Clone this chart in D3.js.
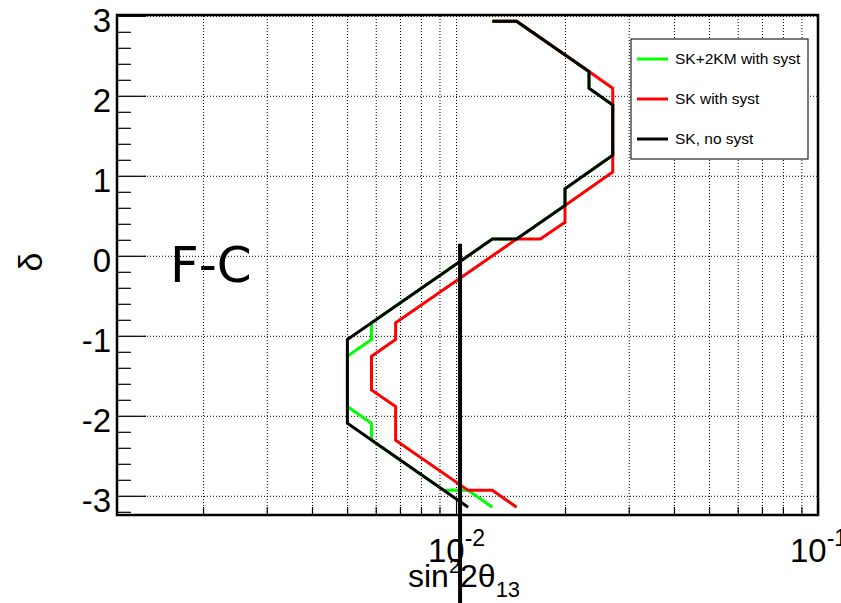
<!DOCTYPE html>
<meta charset="utf-8">
<style>
body { margin: 0; background: #fff; }
text { font-family: "Liberation Sans", Arial, sans-serif; fill: #000; }
.grid line { stroke: #000; stroke-width: 1; stroke-dasharray: 1,2; }
.grid path { display: none; }
.axis path { display: none; }
.axis line { stroke: #000; stroke-width: 1.2; }
</style>
<body>
<script src="https://cdn.jsdelivr.net/npm/d3@7"></script>
<script>
// sin^2 2theta13 (x) and delta (y) along each contour
var sinSKsyst2KM = [0.0126, 0.0147, 0.0233, 0.0233, 0.0271, 0.0271, 0.0200, 0.0200, 0.0147, 0.0126,
                    0.00584, 0.00584, 0.00501, 0.00501, 0.00584, 0.00584, 0.00926, 0.0108, 0.0126];
var deltaSKsyst2KM = [2.932, 2.932, 2.304, 2.094, 1.885, 1.257, 0.838, 0.628, 0.209, 0.209,
                      -0.838, -1.047, -1.257, -1.885, -2.094, -2.304, -2.932, -2.932, -3.142];

var sinSKsyst = [0.0126, 0.0147, 0.0233, 0.0271, 0.0271, 0.0200, 0.0200, 0.0171, 0.0147,
                 0.00681, 0.00681, 0.00584, 0.00584, 0.00681, 0.00681, 0.0108, 0.0126, 0.0147];
var deltaSKsyst = [2.932, 2.932, 2.304, 2.094, 1.047, 0.628, 0.419, 0.209, 0.209,
                   -0.838, -1.047, -1.257, -1.676, -1.885, -2.304, -2.932, -2.932, -3.142];

var sinSKnosyst = [0.0126, 0.0147, 0.0233, 0.0233, 0.0271, 0.0271, 0.0200, 0.0200, 0.0147, 0.0126,
                   0.00501, 0.00501, 0.0108];
var deltaSKnosyst = [2.932, 2.932, 2.304, 2.094, 1.885, 1.257, 0.838, 0.628, 0.209, 0.209,
                     -1.047, -2.094, -3.142];

// vertical marker line
var markerSin = [0.01026, 0.01026];
var markerDelta = [0.15, -4.4];

var seriesNames = ["SK+2KM with syst", "SK with syst", "SK, no syst"];
var seriesColors = ["#00ff00", "#ff0000", "#000000"];

var xMajor = [0.01, 0.1];
var xMinor = [0.002, 0.003, 0.004, 0.005, 0.006, 0.007, 0.008, 0.009,
              0.02, 0.03, 0.04, 0.05, 0.06, 0.07, 0.08, 0.09];
var yMajor = [-3, -2, -1, 0, 1, 2, 3];
var yMinor = [-3.2, -2.8, -2.6, -2.4, -2.2, -1.8, -1.6, -1.4, -1.2, -0.8, -0.6, -0.4, -0.2,
              0.2, 0.4, 0.6, 0.8, 1.2, 1.4, 1.6, 1.8, 2.2, 2.4, 2.6, 2.8];

var padL = 117, padR = 818, padT = 15, padB = 515;

var svg = d3.select("body").append("svg").attr("width", 841).attr("height", 603);

var x = d3.scaleLog().domain([0.001157, 0.1]).range([padL, padR]);
var y = d3.scaleLinear().domain([-3.24, 3.01]).range([padB, padT]);

// grid
svg.append("g").attr("class", "grid")
	.attr("transform", "translate(0," + padB + ")")
	.call(d3.axisBottom(x).tickValues(xMinor.concat([0.01])).tickSize(-(padB - padT)).tickFormat(""));
svg.append("g").attr("class", "grid")
	.attr("transform", "translate(" + padL + ",0)")
	.call(d3.axisLeft(y).tickValues(yMajor).tickSize(-(padR - padL)).tickFormat(""));

// contours
var line = d3.line().x(function(d){ return x(d[0]); }).y(function(d){ return y(d[1]); });
var curves = [
	d3.zip(sinSKsyst2KM, deltaSKsyst2KM),
	d3.zip(sinSKsyst, deltaSKsyst),
	d3.zip(sinSKnosyst, deltaSKnosyst)
];
curves.forEach(function(c, i){
	svg.append("path").datum(c)
		.attr("d", line)
		.attr("fill", "none")
		.attr("stroke", seriesColors[i])
		.attr("stroke-width", 3)
		.attr("stroke-linejoin", "miter");
});

// axes ticks
svg.append("g").attr("class", "axis")
	.attr("transform", "translate(" + padL + ",0)")
	.call(d3.axisLeft(y).tickValues(yMinor).tickSize(-14).tickFormat(""));
var yAx = svg.append("g").attr("class", "axis")
	.attr("transform", "translate(" + padL + ",0)")
	.call(d3.axisLeft(y).tickValues(yMajor).tickSize(-29).tickPadding(6).tickFormat(function(d){ return String(d); }));
yAx.selectAll("text").attr("dy", "0.48em").style("font-size", "33px");

svg.append("g").attr("class", "axis")
	.attr("transform", "translate(0," + padB + ")")
	.call(d3.axisBottom(x).tickValues(xMinor).tickSize(-8).tickFormat(""));
var xAx = svg.append("g").attr("class", "axis")
	.attr("transform", "translate(0," + padB + ")")
	.call(d3.axisBottom(x).tickValues(xMajor).tickSize(-17).tickFormat(""));
xAx.selectAll(".tick text").each(function(d){
	var t = d3.select(this).attr("y", 47).attr("dy", 0).style("font-size", "33px");
	t.append("tspan").text("10");
	t.append("tspan").attr("dy", -16.5).style("font-size", "23px").text(String(Math.round(Math.log10(d))));
});

// frame
svg.append("rect")
	.attr("x", padL).attr("y", padT)
	.attr("width", padR - padL).attr("height", padB - padT)
	.attr("fill", "none").attr("stroke", "#000").attr("stroke-width", 2.5);

// axis titles
var xt = svg.append("text").attr("x", 408).attr("y", 587).style("font-size", "32px");
xt.append("tspan").text("sin");
xt.append("tspan").attr("dy", -14).style("font-size", "20px").text("2");
xt.append("tspan").attr("dy", 14).text("2θ");
xt.append("tspan").attr("dy", 10).style("font-size", "22px").text("13");

svg.append("text")
	.attr("transform", "translate(42,262) rotate(-90)")
	.attr("text-anchor", "middle")
	.style("font-size", "34px")
	.text("δ");

svg.append("text").attr("x", 170).attr("y", 282)
	.style("font-family", "'DejaVu Sans', sans-serif")
	.style("font-size", "50px")
	.text("F-C");

// legend
var lg = svg.append("g");
lg.append("rect").attr("x", 631).attr("y", 39).attr("width", 177).attr("height", 120)
	.attr("fill", "#fff").attr("stroke", "#222").attr("stroke-width", 1.2);
seriesNames.forEach(function(name, i){
	var yy = 59 + i * 40;
	lg.append("line").attr("x1", 637).attr("x2", 668).attr("y1", yy).attr("y2", yy)
		.attr("stroke", seriesColors[i]).attr("stroke-width", 3);
	lg.append("text").attr("x", 675).attr("y", yy + 5).style("font-size", "15.5px").text(name);
});

// marker line
svg.append("path").datum(d3.zip(markerSin, markerDelta))
	.attr("d", line)
	.attr("stroke", "#000").attr("stroke-width", 4).attr("fill", "none");
</script>
</body>
</html>
